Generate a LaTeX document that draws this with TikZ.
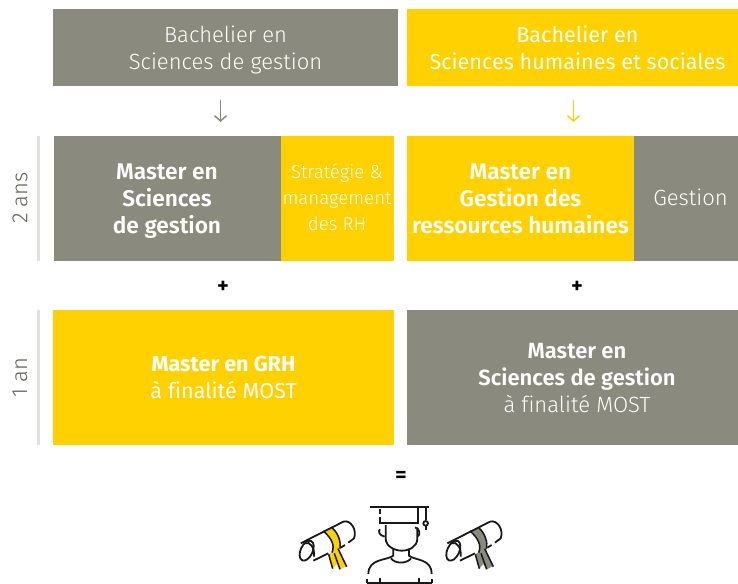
\documentclass[tikz,border=0pt]{standalone}
\usepackage{fontspec}
\setmainfont[BoldFont={Fira Sans SemiBold},Ligatures=NoCommon]{Fira Sans Light}
\newfontfamily\regf[Ligatures=NoCommon]{Fira Sans}
\definecolor{grisB}{HTML}{8B8A7E}
\definecolor{jauneB}{HTML}{FFD100}
\definecolor{barreB}{HTML}{E0E0DC}
\usetikzlibrary{arrows.meta}
\newcommand{\lf}{\vphantom{gB}}
\newcommand{\rouleau}[2]{%
 \begin{scope}[xshift=#2*0.25pt]
 \fill[#1] (130,123) .. controls (155,145) and (165,165) .. (156,192) -- (180,178) .. controls (183,155) and (175,130) .. (157,114) -- cycle;
 \fill[#1] (146,193) -- (158,236) -- (170,222) -- (180,238) -- (200,228) -- (174,176) -- cycle;
 \draw[line width=1.15pt] (146,193) -- (158,236) (163,190) -- (180,238) (174,176) -- (200,230);
 \draw[rotate around={-25:(80,182)}] (80,182) ellipse (18 and 32);
 \draw (62,160) -- (190,95) .. controls (212,88) and (232,120) .. (222,145) -- (205,158);
 \draw (100,212) -- (145,190) (182,173) -- (195,165);
 \draw (75,160) .. controls (90,152) and (105,175) .. (102,200);
 \draw[line width=1.15pt] (130,123) .. controls (155,145) and (165,165) .. (156,188);
 \draw[line width=1.15pt] (157,114) .. controls (175,130) and (183,155) .. (180,176);
 \end{scope}}
\tikzset{
 hdr/.style={font=\fontsize{16.5pt}{20.25pt}\selectfont},
 hdrr/.style={font=\fontsize{16.2pt}{20.25pt}\selectfont\regf},
 bd/.style={font=\fontsize{17pt}{20.25pt}\selectfont\bfseries},
 spec/.style={font=\fontsize{14pt}{19.5pt}\selectfont},
 sym/.style={font=\fontsize{17pt}{18pt}\selectfont\bfseries,text=black},
 fl/.style={line width=1.1pt,-{Straight Barb[length=4pt,width=9pt]}},
 ic/.style={line width=1.35pt,black!90,line cap=butt},
}
\begin{document}
\begin{tikzpicture}[x=0.75pt,y=-0.75pt]
\useasboundingbox (0,0) rectangle (738,584);
% top
\fill[grisB] (53,9) rectangle (398,86);
\fill[jauneB] (407,9) rectangle (738,86);
\node[hdr,text=white,align=center] (b1) at (225.5,49.8) {\lf Bachelier en\\\lf Sciences de gestion};
\node[hdrr,text=white,align=center] (b2) at (577.5,49.8) {\lf Bachelier en\\\lf Sciences humaines et sociales};
% middle
\fill[grisB] (54,136) rectangle (281,261);
\fill[jauneB] (281,136) rectangle (394,261);
\fill[jauneB] (407,136) rectangle (634,261);
\fill[grisB] (634,136) rectangle (738,261);
\node[bd,text=white,align=center] (m1) at (167,201.5) {\lf Master en\\\lf Sciences\\\lf de gestion};
\node[spec,text=white,align=center] (s1) at (337,199.5) {\lf Stratégie \&\\\lf management\\\lf des RH};
\node[bd,text=white,align=center] (m2) at (520.5,201.5) {\lf Master en\\\lf Gestion des\\\lf ressources humaines};
\node[hdr,text=white] (s2) at (690.5,199) {\lf Gestion};
% arrows
\coordinate (a1s) at (220.5,100);\coordinate (a1e) at (220.5,122);
\coordinate (a2s) at (573.5,100);\coordinate (a2e) at (573.5,122);
\draw[fl,grisB] (a1s) -- (a1e);
\draw[fl,jauneB] (a2s) -- (a2e);
% plus
\node[sym] (p1) at (223,287) {+};
\node[sym] (p2) at (577,287) {+};
% bottom
\fill[jauneB] (53,310) rectangle (394,445);
\fill[grisB] (407,310) rectangle (738,445);
\node[hdrr,text=white,align=center] (l1) at (223.5,379.8) {\lf\textbf{Master en GRH}\\\lf à finalité MOST};
\node[hdr,text=white,align=center] (l2) at (577,380.5) {\lf\textbf{Master en}\\\lf\textbf{Sciences de gestion}\\\lf à finalité MOST};
% side
\fill[barreB] (37,136) rectangle (40,261);
\fill[barreB] (37,310) rectangle (40,445);
\node[hdr,text=grisB!70!black,rotate=90] (y2) at (20,198) {2 ans};
\node[hdr,text=grisB!70!black,rotate=90] (y1) at (20,378) {1 an};
\node[sym] (eq) at (401,476.5) {=};
% icon
\begin{scope}[shift={(280,490)},x=0.25pt,y=-0.25pt,ic]
 % cap
 \draw (270,50) -- (447,50);
 \draw (300,58) -- (300,72) (300,80) -- (300,100) -- (415,100) -- (415,50);
 \draw (437,55) -- (437,90) (437,108) -- (437,120);
 \draw (437,100) circle (7);
 % head
 \draw (317,105) -- (317,145) .. controls (317,170) and (345,182) .. (365,182) .. controls (388,182) and (412,170) .. (412,145) -- (412,112);
 \draw (300,118) .. controls (294,122) and (296,136) .. (314,140);
 \draw (405,112) .. controls (420,115) and (422,136) .. (412,140);
 % neck, shoulders
 \draw (340,176) -- (340,197) .. controls (320,212) and (265,205) .. (265,252);
 \draw (387,176) -- (387,197) .. controls (405,212) and (455,205) .. (455,252);
 \draw (333,205) .. controls (345,222) and (380,222) .. (393,205);
 % base
 \draw (262,278) -- (455,278);
 \draw (262,268) -- (262,278) (300,265) -- (300,278) (418,265) -- (418,278) (455,268) -- (455,278);
 \rouleau{jauneB}{0}
 \rouleau{grisB}{440}
\end{scope}
\end{tikzpicture}
\end{document}
